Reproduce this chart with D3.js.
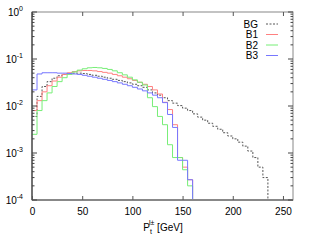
<!DOCTYPE html>
<html>
<head>
<meta charset="utf-8">
<script src="https://cdn.jsdelivr.net/npm/d3@7"></script>
<style>
  body { margin: 0; background: #fff; }
  text { font-family: "Liberation Sans", Arial, sans-serif; }
</style>
</head>
<body>
<script>
// bin width in GeV, each series starts at 0
const binWidth = 5;

// histogram values per 5 GeV bin
const bg = [0.006, 0.016, 0.026, 0.033, 0.039, 0.044, 0.047, 0.049, 0.05, 0.05,
  0.049, 0.047, 0.045, 0.043, 0.041, 0.039, 0.037, 0.035, 0.033, 0.031,
  0.029, 0.027, 0.025, 0.022, 0.019, 0.017, 0.015, 0.013, 0.0115, 0.0102,
  0.009, 0.008, 0.0068, 0.0058, 0.005, 0.0043, 0.0037, 0.0032, 0.0027, 0.0023,
  0.002, 0.0017, 0.0014, 0.0011, 0.0008, 0.0005, 0.0003];
const b1 = [0.008, 0.013, 0.02, 0.027, 0.034, 0.041, 0.047, 0.051, 0.054, 0.056,
  0.057, 0.057, 0.056, 0.054, 0.052, 0.05, 0.047, 0.044, 0.041, 0.038,
  0.035, 0.032, 0.029, 0.026, 0.022, 0.018, 0.012, 0.0084, 0.004, 0.0008,
  0.0005, 0.00027];
const b2 = [0.0025, 0.008, 0.013, 0.019, 0.026, 0.033, 0.04, 0.047, 0.053, 0.058,
  0.062, 0.065, 0.066, 0.065, 0.063, 0.06, 0.056, 0.051, 0.046, 0.041,
  0.036, 0.032, 0.028, 0.015, 0.0097, 0.006, 0.004, 0.0015, 0.0008, 0.0008,
  0.00044, 0.0002];
const b3 = [0.022, 0.048, 0.051, 0.051, 0.051, 0.05, 0.05, 0.049, 0.048, 0.047,
  0.045, 0.043, 0.041, 0.039, 0.037, 0.035, 0.033, 0.031, 0.029, 0.027,
  0.025, 0.023, 0.021, 0.019, 0.017, 0.015, 0.0118, 0.0066, 0.0035, 0.0007,
  0.0007, 0.00027];

const seriesNames = ["BG", "B1", "B2", "B3"];
const seriesColors = ["#555555", "#ff8080", "#77ee77", "#7777ff"];

// tick labels
const xTicks = [0, 50, 100, 150, 200, 250];
const yExps = [0, -1, -2, -3, -4];

const width = 311, height = 245;
const mLeft = 32, mRight = 293, mTop = 12, mBottom = 200;

const svg = d3.select("body").append("svg")
    .attr("width", width)
    .attr("height", height);

const x = d3.scaleLinear().domain([0, 260]).range([mLeft, mRight]);
const y = d3.scaleLog().domain([1e-4, 1]).range([mBottom, mTop]);

// step histograms
const line = d3.line()
    .x(d => x(d[0]))
    .y(d => y(d[1]))
    .curve(d3.curveStepAfter);

function stepPoints(vals) {
  const pts = vals.map((v, i) => [i * binWidth, v]);
  const end = vals.length * binWidth;
  pts.push([end, vals[vals.length - 1]]);
  pts.push([end, 1e-4]);
  return pts;
}

const allSeries = [bg, b1, b2, b3];
allSeries.forEach((vals, k) => {
  svg.append("path")
      .attr("d", line(stepPoints(vals)))
      .attr("fill", "none")
      .attr("stroke", seriesColors[k])
      .attr("stroke-width", 1)
      .attr("stroke-dasharray", k === 0 ? "2,1.5" : null);
});

// frame
svg.append("rect")
    .attr("x", mLeft).attr("y", mTop)
    .attr("width", mRight - mLeft).attr("height", mBottom - mTop)
    .attr("fill", "none")
    .attr("stroke", "#888")
    .attr("stroke-width", 1);
svg.append("line")
    .attr("x1", mLeft).attr("x2", mRight)
    .attr("y1", mBottom).attr("y2", mBottom)
    .attr("stroke", "#888").attr("stroke-width", 2);
svg.append("line")
    .attr("x1", mLeft).attr("x2", mLeft)
    .attr("y1", mTop).attr("y2", mBottom)
    .attr("stroke", "#222").attr("stroke-width", 1);

// x ticks (inward, top and bottom)
const xBottom = d3.axisBottom(x).tickValues(xTicks).tickSize(-4).tickPadding(8);
svg.append("g")
    .attr("transform", `translate(0,${mBottom})`)
    .call(xBottom)
    .call(g => g.select(".domain").remove())
    .call(g => g.selectAll("line").attr("stroke", "#555"))
    .call(g => g.selectAll("text").attr("font-size", 10).attr("fill", "#000"));
const xTop = d3.axisTop(x).tickValues(xTicks).tickSize(-4).tickFormat("");
svg.append("g")
    .attr("transform", `translate(0,${mTop})`)
    .call(xTop)
    .call(g => g.select(".domain").remove())
    .call(g => g.selectAll("line").attr("stroke", "#555"));

// y ticks: majors and log minors on both sides
const minors = [];
yExps.slice(0, -1).forEach(e => {
  for (let m = 2; m <= 9; m++) minors.push(m * Math.pow(10, e - 1));
});
const majors = yExps.map(e => Math.pow(10, e));

[[mLeft, 1], [mRight, -1]].forEach(([x0, dir]) => {
  svg.append("g").selectAll("line")
      .data(majors).enter().append("line")
      .attr("x1", x0).attr("x2", x0 + dir * 5)
      .attr("y1", d => y(d)).attr("y2", d => y(d))
      .attr("stroke", "#444");
  svg.append("g").selectAll("line")
      .data(minors).enter().append("line")
      .attr("x1", x0).attr("x2", x0 + dir * 2.5)
      .attr("y1", d => y(d)).attr("y2", d => y(d))
      .attr("stroke", "#444");
});

// y tick labels 10^n
const yLab = svg.append("g").selectAll("text")
    .data(yExps).enter().append("text")
    .attr("x", 23)
    .attr("y", d => y(Math.pow(10, d)) + 4)
    .attr("text-anchor", "end")
    .attr("font-size", 10);
yLab.append("tspan").text("10");
yLab.append("tspan")
    .attr("dy", -5)
    .attr("font-size", 7)
    .text(d => d === 0 ? "0" : "-" + (-d));

// x axis label
const xl = svg.append("text")
    .attr("x", 163)
    .attr("y", 231)
    .attr("text-anchor", "middle")
    .attr("font-size", 10);
xl.append("tspan").text("P");
xl.append("tspan").attr("dy", 3).attr("font-size", 7).text("t");
xl.append("tspan").attr("dx", -3).attr("dy", -9).attr("font-size", 7).text("l\u00b1");
xl.append("tspan").attr("dy", 6).text(" [GeV]");

// legend
const legend = svg.append("g");
seriesNames.forEach((name, k) => {
  const ly = 24 + k * 10.5;
  legend.append("text")
      .attr("x", 258).attr("y", ly + 3.5)
      .attr("text-anchor", "end")
      .attr("font-size", 10)
      .text(name);
  legend.append("line")
      .attr("x1", 266).attr("x2", 278)
      .attr("y1", ly).attr("y2", ly)
      .attr("stroke", seriesColors[k])
      .attr("stroke-dasharray", k === 0 ? "2,1.5" : null);
});
</script>
</body>
</html>
